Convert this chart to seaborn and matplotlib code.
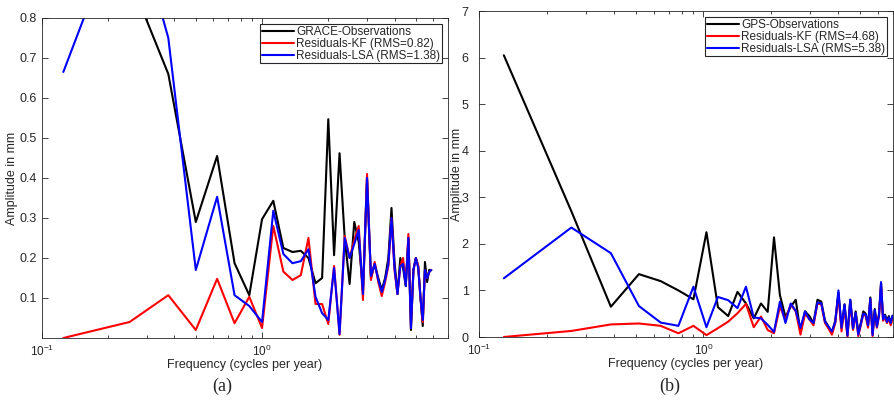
import numpy as np
import pandas as pd
import matplotlib.pyplot as plt
import seaborn as sns
from matplotlib.ticker import FixedLocator, NullFormatter, FixedFormatter

# (a) GRACE spectrum, 8-year record -> bins of 1/8 cycles per year
freq_a = np.arange(1, 48) / 8
grace_obs = [1.25, 0.90, 0.66, 0.29, 0.455, 0.187, 0.107, 0.297, 0.343, 0.225,
             0.215, 0.218, 0.20, 0.137, 0.15, 0.547, 0.207, 0.462, 0.25, 0.135,
             0.29, 0.24, 0.12, 0.40, 0.15, 0.185, 0.15, 0.12, 0.15, 0.20,
             0.325, 0.19, 0.11, 0.20, 0.175, 0.13, 0.25, 0.02, 0.17, 0.20,
             0.18, 0.10, 0.03, 0.19, 0.14, 0.17, 0.17]
grace_kf = [0.0, 0.04, 0.107, 0.02, 0.148, 0.037, 0.103, 0.025, 0.28, 0.166,
            0.145, 0.157, 0.25, 0.085, 0.085, 0.035, 0.18, 0.008, 0.255, 0.20,
            0.245, 0.28, 0.095, 0.41, 0.145, 0.19, 0.14, 0.105, 0.14, 0.18,
            0.30, 0.17, 0.11, 0.18, 0.20, 0.135, 0.26, 0.03, 0.17, 0.20,
            0.18, 0.10, 0.04, 0.17, 0.15, 0.165, 0.17]
grace_lsa = [0.665, 1.10, 0.75, 0.17, 0.353, 0.107, 0.08, 0.04, 0.318, 0.21,
             0.187, 0.192, 0.222, 0.103, 0.062, 0.045, 0.175, 0.01, 0.25, 0.20,
             0.235, 0.27, 0.11, 0.40, 0.155, 0.185, 0.145, 0.115, 0.145, 0.185,
             0.30, 0.175, 0.11, 0.18, 0.185, 0.13, 0.25, 0.025, 0.17, 0.20,
             0.175, 0.10, 0.045, 0.17, 0.15, 0.165, 0.17]

# (b) GPS spectrum
freq_b = np.arange(1, 55) * 0.129
gps_obs = [6.05, 2.7, 0.65, 1.35, 1.2, 1.0, 0.81, 2.25, 0.64, 0.45,
           0.97, 0.72, 0.4, 0.72, 0.54, 2.14, 0.9, 0.43, 0.65, 0.8,
           0.1, 0.55, 0.45, 0.3, 0.8, 0.76, 0.35, 0.22, 0.1, 0.35,
           0.95, 0.2, 0.7, 0.05, 0.8, 0.2, 0.55, 0.1, 0.3, 0.55,
           0.5, 0.25, 0.85, 0.08, 0.6, 0.25, 0.5, 1.15, 0.4, 0.48,
           0.35, 0.45, 0.3, 0.45]
gps_kf = [0.0, 0.13, 0.27, 0.29, 0.24, 0.08, 0.24, 0.04, 0.19, 0.33,
          0.51, 0.71, 0.21, 0.44, 0.15, 0.08, 0.65, 0.37, 0.7, 0.55,
          0.05, 0.5, 0.38, 0.25, 0.72, 0.7, 0.3, 0.18, 0.05, 0.3,
          0.9, 0.12, 0.65, 0.0, 0.75, 0.15, 0.5, 0.02, 0.25, 0.5,
          0.45, 0.2, 0.8, 0.02, 0.55, 0.2, 0.45, 1.1, 0.35, 0.42,
          0.3, 0.4, 0.25, 0.4]
gps_lsa = [1.26, 2.35, 1.8, 0.665, 0.31, 0.24, 1.08, 0.21, 0.86, 0.79,
           0.62, 1.08, 0.42, 0.4, 0.26, 0.11, 0.76, 0.3, 0.72, 0.56,
           0.2, 0.55, 0.38, 0.3, 0.74, 0.72, 0.33, 0.22, 0.12, 0.32,
           1.0, 0.2, 0.7, 0.03, 0.8, 0.18, 0.52, 0.05, 0.28, 0.5,
           0.48, 0.25, 0.82, 0.04, 0.58, 0.22, 0.46, 1.18, 0.38, 0.46,
           0.32, 0.42, 0.3, 0.46]

sns.set_style("ticks")
plt.rcParams['font.family'] = ['Liberation Sans', 'DejaVu Sans']
plt.rcParams['mathtext.fontset'] = 'custom'
plt.rcParams['mathtext.rm'] = 'Liberation Sans'
grey = '#262626'

fig = plt.figure(figsize=(8.94, 4.13), dpi=100)
ax1 = fig.add_axes([42 / 894, 75 / 413, 406 / 894, 320 / 413])
ax2 = fig.add_axes([479 / 894, 76 / 413, 414 / 894, 326 / 413])

panels = [
    (ax1, freq_a, grace_obs, grace_kf, grace_lsa,
     ['GRACE-Observations', 'Residuals-KF (RMS=0.82)', 'Residuals-LSA (RMS=1.38)']),
    (ax2, freq_b, gps_obs, gps_kf, gps_lsa,
     ['GPS-Observations', 'Residuals-KF (RMS=4.68)', 'Residuals-LSA (RMS=5.38)']),
]

for ax, f, obs, kf, lsa, labels in panels:
    df = pd.DataFrame({'freq': f, 'obs': obs, 'kf': kf, 'lsa': lsa})
    for col, c, lab in zip(['obs', 'kf', 'lsa'], ['k', 'r', 'b'], labels):
        sns.lineplot(data=df, x='freq', y=col, color=c, lw=1.5, label=lab,
                     ax=ax, sort=False, estimator=None)
    ax.set_xscale('log')
    ax.set_xlim(0.1, 7)
    ax.xaxis.set_major_locator(FixedLocator([0.1, 1]))
    ax.xaxis.set_major_formatter(FixedFormatter([r'$\mathregular{10^{-1}}$', r'$\mathregular{10^{0}}$']))
    ax.xaxis.set_minor_locator(FixedLocator([0.2, 0.3, 0.4, 0.5, 0.6, 0.7, 0.8, 0.9,
                                             2, 3, 4, 5, 6, 7]))
    ax.xaxis.set_minor_formatter(NullFormatter())
    ax.tick_params(which='both', direction='in', top=True, right=True,
                   colors=grey, labelsize=9, width=0.6)
    ax.tick_params(which='major', length=4)
    ax.tick_params(which='minor', length=2.5)
    ax.tick_params(axis='x', which='major', pad=4, labelsize=8.5)
    ax.tick_params(axis='y', which='major', pad=4)
    for s in ax.spines.values():
        s.set_color(grey)
        s.set_linewidth(0.6)
    ax.set_xlabel('Frequency (cycles per year)', fontsize=9, color=grey, labelpad=0)
    ax.set_ylabel('Amplitude in mm', fontsize=9, color=grey, labelpad=1)
    leg = ax.legend(loc='upper right', fontsize=8.5, handlelength=2.7,
                    handletextpad=0.2, borderpad=0.15, labelspacing=0.0,
                    borderaxespad=0.5, fancybox=False, framealpha=1)
    leg.get_frame().set_edgecolor(grey)
    leg.get_frame().set_linewidth(0.8)

ax1.set_ylim(0, 0.8)
ax1.set_yticks(np.round(np.arange(0.1, 0.81, 0.1), 1))
ax2.set_ylim(0, 7)
ax2.set_yticks(range(0, 8))
# keep the "0" clear of the 10^-1 label below it
ax2.tick_params(axis='y', which='major', pad=7.5)
ax2.set_ylabel('Amplitude in mm', fontsize=9, color=grey, labelpad=-1)

fig.text(222 / 894, 1 - 386 / 413, '(a)', ha='center', va='center',
         family='Liberation Serif', fontsize=13)
fig.text(670 / 894, 1 - 386 / 413, '(b)', ha='center', va='center',
         family='Liberation Serif', fontsize=13)

plt.savefig('out.png', dpi=100)
